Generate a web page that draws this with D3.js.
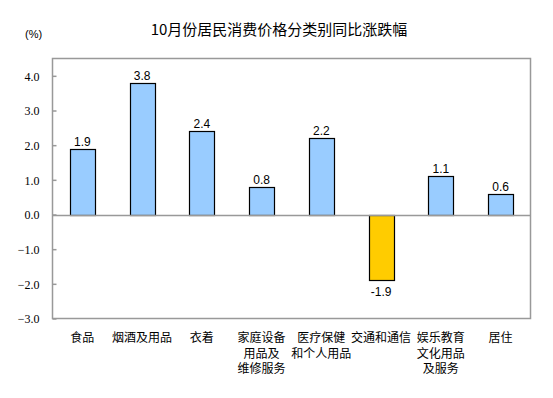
<!DOCTYPE html>
<html><head><meta charset="utf-8">
<script src="https://cdn.jsdelivr.net/npm/d3@7"></script>
<style>body{margin:0;background:#fff;}</style>
</head><body>
<svg id="c" width="553" height="398"></svg>
<script>
const categories = [["食品"],["烟酒及用品"],["衣着"],["家庭设备","用品及","维修服务"],["医疗保健","和个人用品"],["交通和通信"],["娱乐教育","文化用品","及服务"],["居住"]];
const values = [1.9, 3.8, 2.4, 0.8, 2.2, -1.9, 1.1, 0.6];
const tickValues = [-3, -2, -1, 0, 1, 2, 3, 4];
const title = "10月份居民消费价格分类别同比涨跌幅";
const unit = "(%)";

const svg = d3.select("#c");
const L = 52.5, R = 530.5, T = 58.5, B = 318.5;
const x = d3.scaleBand().domain(d3.range(values.length)).range([L, R]).paddingInner(0.58).paddingOuter(0.29);
const y = d3.scaleLinear().domain([-3, 4.5]).range([B, T]);

svg.append("text").attr("x", 279).attr("y", 35).attr("text-anchor", "middle")
  .attr("font-family", "'Noto Sans CJK SC', sans-serif").attr("font-size", 15).attr("fill", "#000").text(title);
svg.append("text").attr("x", 25).attr("y", 38).attr("font-family", "'Liberation Sans', Arial, sans-serif")
  .attr("font-size", 11).attr("fill", "#000").text(unit);

// frame
svg.append("rect").attr("x", L).attr("y", T).attr("width", R - L).attr("height", B - T)
  .attr("fill", "none").attr("stroke", "#999").attr("stroke-width", 1.5);

// y axis
const yAxis = d3.axisRight(y).tickValues(tickValues).tickSize(4).tickFormat(d3.format(".1f"));
const ga = svg.append("g").attr("transform", `translate(${L},0)`).call(yAxis);
ga.select(".domain").remove();
ga.selectAll(".tick line").attr("stroke", "#999").attr("stroke-width", 1.5);
ga.selectAll(".tick text").attr("x", -13).attr("text-anchor", "end").attr("dy", "0.35em")
  .attr("font-family", "'Liberation Serif', 'Times New Roman', serif").attr("font-size", 12).attr("fill", "#000");

// bars
svg.append("g").selectAll("rect").data(values).join("rect")
  .attr("x", (d, i) => Math.round(x(i)) + 0.5)
  .attr("y", d => Math.round(y(Math.max(0, d))) + 0.5)
  .attr("width", Math.round(x.bandwidth()))
  .attr("height", d => Math.abs(Math.round(y(d)) - Math.round(y(0))))
  .attr("fill", d => d < 0 ? "#FFCC00" : "#99CCFF")
  .attr("stroke", "#000").attr("stroke-width", 1.2);

// zero line
svg.append("line").attr("x1", L).attr("x2", R).attr("y1", Math.round(y(0)) + 0.5).attr("y2", Math.round(y(0)) + 0.5)
  .attr("stroke", "#999").attr("stroke-width", 1.5);

// value labels
svg.append("g").selectAll("text").data(values).join("text")
  .attr("x", (d, i) => x(i) + x.bandwidth() / 2)
  .attr("y", d => d >= 0 ? y(d) - 3 : y(d) + 16)
  .attr("text-anchor", "middle").attr("font-family", "'Liberation Sans', Arial, sans-serif")
  .attr("font-size", 12).attr("fill", "#000").text(d => d3.format(".1f")(d).replace("−", "-"));

// category labels
const cg = svg.append("g").selectAll("text").data(categories).join("text")
  .attr("text-anchor", "middle").attr("font-family", "'Noto Sans CJK SC', sans-serif")
  .attr("font-size", 12).attr("fill", "#000");
cg.each(function(lines, i) {
  d3.select(this).selectAll("tspan").data(lines).join("tspan")
    .attr("x", x(i) + x.bandwidth() / 2).attr("y", (d, k) => 342 + k * 15.5).text(d => d);
});
</script>
</body></html>
